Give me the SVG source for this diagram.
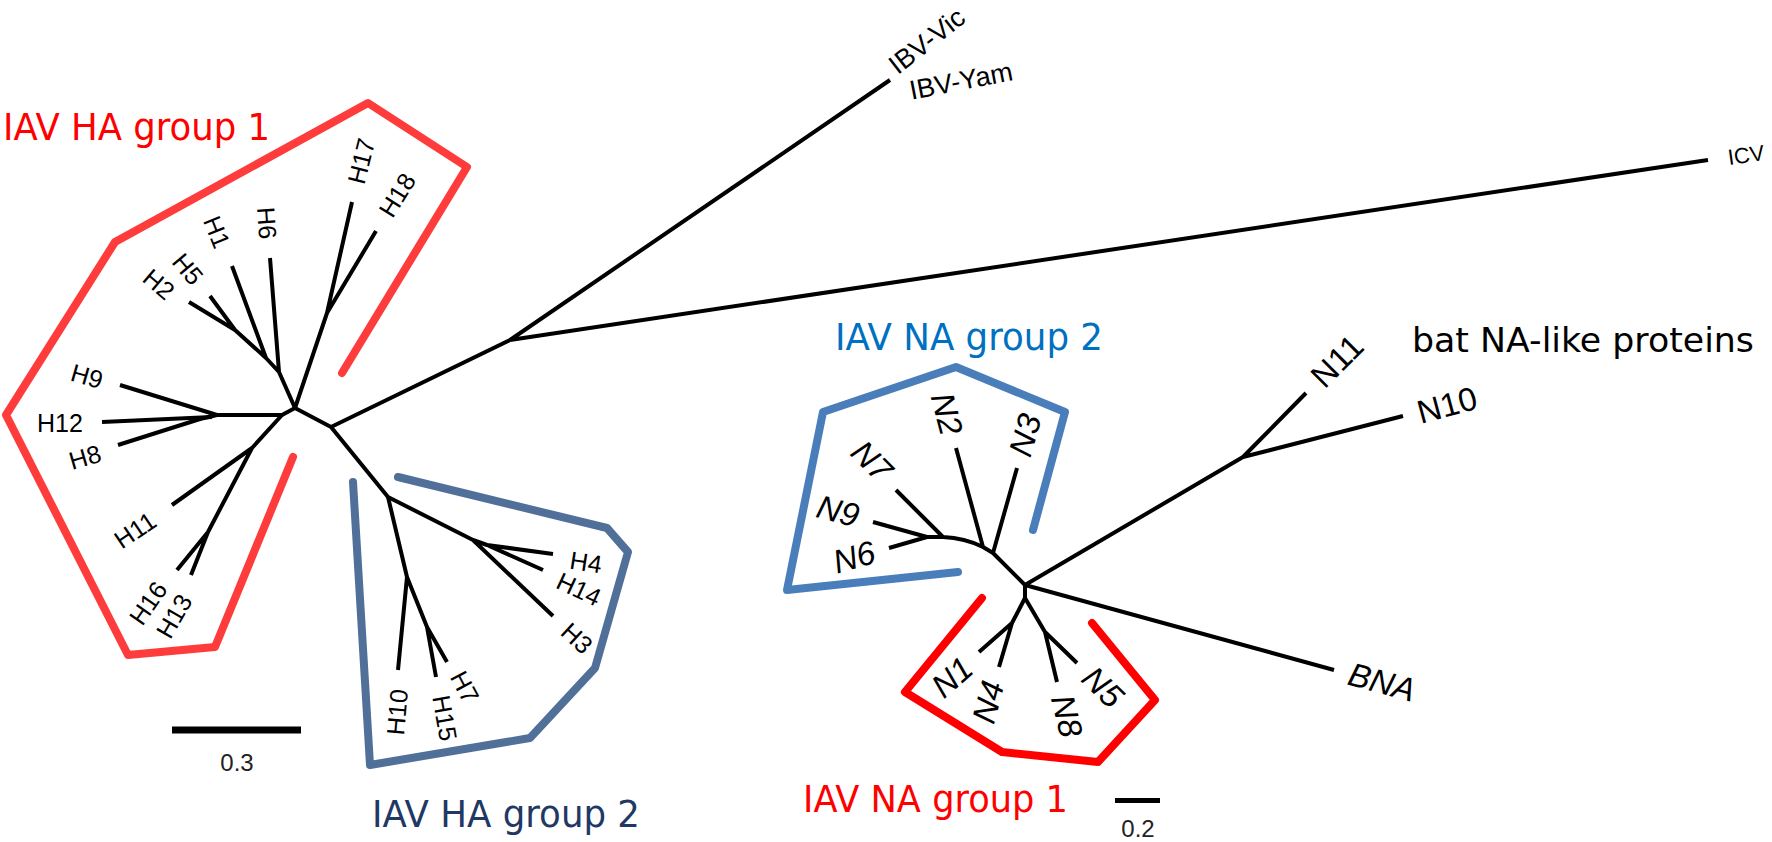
<svg xmlns="http://www.w3.org/2000/svg" width="1772" height="842" viewBox="0 0 1772 842">
<style>
.br{fill:none;stroke:#000;stroke-width:4;stroke-linecap:butt;stroke-linejoin:round}
.hl{font-family:"Liberation Sans",Arial,sans-serif;font-size:25px;fill:#000;text-anchor:middle;dominant-baseline:central}
.nl{font-family:"Liberation Sans",Arial,sans-serif;font-size:33px;fill:#000;text-anchor:middle;dominant-baseline:central}
.it{font-style:italic}
.grp{font-family:"DejaVu Sans","Liberation Sans",sans-serif;font-size:38px}
.sc{font-family:"Liberation Sans",Arial,sans-serif;font-size:24px;fill:#222;text-anchor:middle;dominant-baseline:central}
.hull{fill:none;stroke-width:8;stroke-linecap:round;stroke-linejoin:round}
</style>
<rect width="1772" height="842" fill="#fff"/>

<g id="clade-hulls">
  <path id="hull-ha1" class="hull" stroke="#FF3C3C" d="M293,457 L215,647 L128,655 L6,415 L115,242 L368,103 L467,167 L342,373"/>
  <path id="hull-ha2" class="hull" stroke="#50709A" d="M353,482 L370,765 L530,738 L595,668 L628,552 L607,528 L398,477"/>
  <path id="hull-na2" class="hull" stroke="#4A7EBB" stroke-linecap="butt" stroke-linejoin="miter" d="M958,572 L787,590 L823,412 L956,367 L1065,412 L1033,530"/>
  <path id="hull-na1" class="hull" stroke="#FF0000" stroke-linecap="butt" stroke-linejoin="miter" d="M982,598 L905,692 L1002,752 L1098,762 L1155,700 L1092,623"/>
</g>

<g id="connectors">
  <path class="br" d="M295,408 L279,372 L270,258 M279,372 L266,358 L232,266 M266,358 L235,330 L210,296 M235,330 L189,302"/>
  <path class="br" d="M295,408 L327,313 L352,202 M327,313 L376,231"/>
  <path class="br" d="M295,408 L282,415 L217,415 L120,385 M217,415 L200,419 L118,445"/>
  <path class="br" stroke-width="7" d="M212,417 L102,422"/>
  <path class="br" d="M282,415 L252,448 L208,532 L177,570 M208,532 L191,575 M252,448 L172,505"/>
  <path class="br" d="M295,408 L331,427 L388,497 L473,540 L553,616 M473,540 L487,545 L553,554 M487,545 L543,570"/>
  <path class="br" d="M388,497 L407,577 L398,670 M407,577 L427,627 L436,677 M427,627 L447,662"/>
  <path class="br" d="M331,427 L510,340 L890,80 M510,340 L1708,160"/>
  <path class="br" d="M1025,585 L993,553 L983,547 Q965,538 943,537 L927,537 L873,522 M927,537 L889,548 M943,537 L896,490 M983,547 L956,448 M993,553 L1017,468"/>
  <path class="br" d="M1025,585 L1243,457 L1306,393 M1243,457 L1403,416 M1025,585 L1334,670"/>
  <path class="br" d="M1025,585 L1025,598 L1012,623 L979,652 M1012,623 L999,667 M1025,598 L1045,632 L1057,682 M1045,632 L1077,663"/>
</g>

<g id="labels-ha1">
  <g id="H17"><text class="hl" transform="translate(361,161) rotate(-76)">H17</text></g>
  <g id="H18"><text class="hl" transform="translate(397,195) rotate(-58)">H18</text></g>
  <g id="H6"><text class="hl" transform="translate(267,223) rotate(86)">H6</text></g>
  <g id="H1"><text class="hl" transform="translate(217,232) rotate(68)">H1</text></g>
  <g id="H5"><text class="hl" transform="translate(188,269) rotate(50)">H5</text></g>
  <g id="H2"><text class="hl" transform="translate(159,284) rotate(40)">H2</text></g>
  <g id="H9"><text class="hl" transform="translate(87,376) rotate(16)">H9</text></g>
  <g id="H12"><text class="hl" transform="translate(60,423)">H12</text></g>
  <g id="H8"><text class="hl" transform="translate(85,457) rotate(-16)">H8</text></g>
  <g id="H11"><text class="hl" transform="translate(135,530) rotate(-34)">H11</text></g>
  <g id="H16"><text class="hl" transform="translate(148,603) rotate(-55)">H16</text></g>
  <g id="H13"><text class="hl" transform="translate(174,616) rotate(-60)">H13</text></g>
</g>

<g id="labels-ha2">
  <g id="H4"><text class="hl" transform="translate(586,562) rotate(9)">H4</text></g>
  <g id="H14"><text class="hl" transform="translate(579,589) rotate(25)">H14</text></g>
  <g id="H3"><text class="hl" transform="translate(577,638) rotate(43)">H3</text></g>
  <g id="H7"><text class="hl" transform="translate(465,687) rotate(62)">H7</text></g>
  <g id="H15"><text class="hl" transform="translate(445,718) rotate(80)">H15</text></g>
  <g id="H10"><text class="hl" transform="translate(397,712) rotate(-85)">H10</text></g>
</g>

<g id="labels-flu-bc">
  <g id="IBV-Vic"><text class="hl" style="font-size:27px" transform="translate(927,41) rotate(-38)">IBV-Vic</text></g>
  <g id="IBV-Yam"><text class="hl" style="font-size:27px" transform="translate(961,81) rotate(-11)">IBV-Yam</text></g>
  <g id="ICV"><text class="hl" style="font-size:22px" transform="translate(1746,155) rotate(-8)">ICV</text></g>
</g>

<g id="labels-na">
  <g id="N2"><text class="nl it" transform="translate(947,414) rotate(75)">N2</text></g>
  <g id="N3"><text class="nl it" transform="translate(1025,435) rotate(-74)">N3</text></g>
  <g id="N7"><text class="nl it" transform="translate(872,461) rotate(45)">N7</text></g>
  <g id="N9"><text class="nl it" transform="translate(838,511) rotate(15)">N9</text></g>
  <g id="N6"><text class="nl it" transform="translate(854,557) rotate(-16)">N6</text></g>
  <g id="N1"><text class="nl it" transform="translate(952,677) rotate(-41)">N1</text></g>
  <g id="N4"><text class="nl it" transform="translate(988,702) rotate(-75)">N4</text></g>
  <g id="N8"><text class="nl it" transform="translate(1067,716) rotate(76)">N8</text></g>
  <g id="N5"><text class="nl it" transform="translate(1103,687) rotate(44)">N5</text></g>
  <g id="N11"><text class="nl" transform="translate(1337,361) rotate(-45)">N11</text></g>
  <g id="N10"><text class="nl" transform="translate(1447,405) rotate(-15)">N10</text></g>
  <g id="BNA"><text class="nl it" transform="translate(1382,682) rotate(15)">BNA</text></g>
</g>

<g id="group-titles">
  <text class="grp" x="3" y="140" fill="#FF0000" textLength="267" lengthAdjust="spacingAndGlyphs">IAV HA group 1</text>
  <text class="grp" x="372" y="827" fill="#1F3864" textLength="268" lengthAdjust="spacingAndGlyphs">IAV HA group 2</text>
  <text class="grp" x="835" y="350" fill="#0070C0" textLength="268" lengthAdjust="spacingAndGlyphs">IAV NA group 2</text>
  <text class="grp" x="803" y="812" fill="#FF0000" textLength="265" lengthAdjust="spacingAndGlyphs">IAV NA group 1</text>
  <text class="grp" x="1412" y="352" fill="#000" style="font-size:34px" textLength="342" lengthAdjust="spacingAndGlyphs">bat NA-like proteins</text>
</g>

<g id="scale-bars">
  <line x1="172" y1="730" x2="301" y2="730" stroke="#000" stroke-width="7"/>
  <text class="sc" x="237" y="762">0.3</text>
  <line x1="1115" y1="800.5" x2="1160" y2="800.5" stroke="#000" stroke-width="5"/>
  <text class="sc" x="1138" y="828">0.2</text>
</g>
</svg>
